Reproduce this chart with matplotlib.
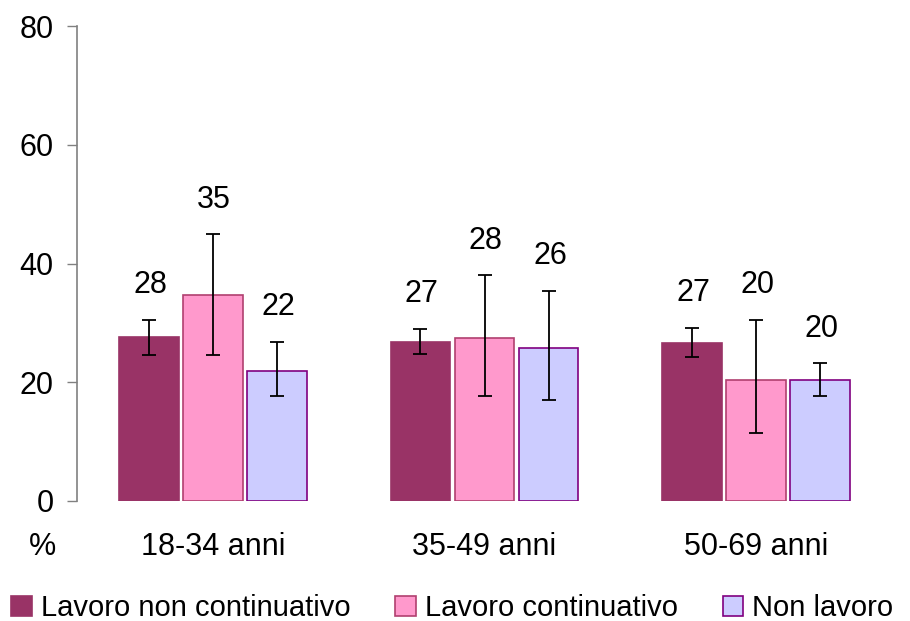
import matplotlib
matplotlib.use("Agg")
import matplotlib.pyplot as plt
import numpy as np
from matplotlib.patches import Patch

plt.rcParams['font.family'] = ['Liberation Sans', 'DejaVu Sans']

categories = ["18-34 anni", "35-49 anni", "50-69 anni"]
series = ["Lavoro non continuativo", "Lavoro continuativo", "Non lavoro"]
values = [
    [27.6, 26.8, 26.6],
    [34.7, 27.4, 20.4],
    [21.9, 25.8, 20.4],
]
err_low = [
    [24.6, 24.7, 24.3],
    [24.6, 17.7, 11.4],
    [17.7, 17.0, 17.7],
]
err_high = [
    [30.5, 29.0, 29.1],
    [44.9, 38.0, 30.5],
    [26.8, 35.4, 23.2],
]
labels = [
    ["28", "27", "27"],
    ["35", "28", "20"],
    ["22", "26", "20"],
]
colors = ["#993366", "#FF99CC", "#CCCCFF"]
edges = ["#993366", "#B0406F", "#800080"]

FS = 22

fig = plt.figure(figsize=(9.1, 6.21), dpi=100)
ax = fig.add_axes([77/910, 1-501/621, (892-77)/910, (501-26)/621])

x = np.arange(len(categories))
w = 0.22
step = 0.236
for i in range(3):
    pos = x + (i - 1) * step
    v = np.array(values[i])
    lo = v - np.array(err_low[i])
    hi = np.array(err_high[i]) - v
    ax.bar(pos, v, width=w, color=colors[i], edgecolor=edges[i], linewidth=1.2, zorder=2)
    ax.errorbar(pos, v, yerr=[lo, hi], fmt='none', ecolor='black', elinewidth=1.3,
                capsize=5, capthick=1.3, zorder=3)
    for p, top, lab in zip(pos, err_high[i], labels[i]):
        ax.annotate(lab, (p, top), xytext=(1, 25), textcoords='offset points',
                    ha='center', va='center', fontsize=FS)

ax.set_xlim(-0.5, 2.5)
ax.set_ylim(0, 80)
ax.set_yticks([0, 20, 40, 60, 80])
ax.tick_params(axis='y', length=7, width=1, color='#808080', pad=10, labelsize=FS)
ax.set_xticks(x)
ax.set_xticklabels(categories)
ax.tick_params(axis='x', length=0, pad=22, labelsize=FS)
for s in ['top', 'right', 'bottom']:
    ax.spines[s].set_visible(False)
ax.spines['left'].set_color('#808080')
ax.spines['left'].set_linewidth(1.2)

fig.text(42/910, 1-547/621, "%", ha='center', va='center', fontsize=FS)

handles = [Patch(facecolor=c, edgecolor=e, linewidth=1.2) for c, e in zip(colors, edges)]
fig.legend(handles, series, loc='center', bbox_to_anchor=(0.497, 1-608/621), ncol=3,
           frameon=False, fontsize=21, handlelength=0.7, handleheight=0.7,
           handletextpad=0.3, columnspacing=1.55, borderaxespad=0, borderpad=0)

fig.savefig("out.png", dpi=100)
